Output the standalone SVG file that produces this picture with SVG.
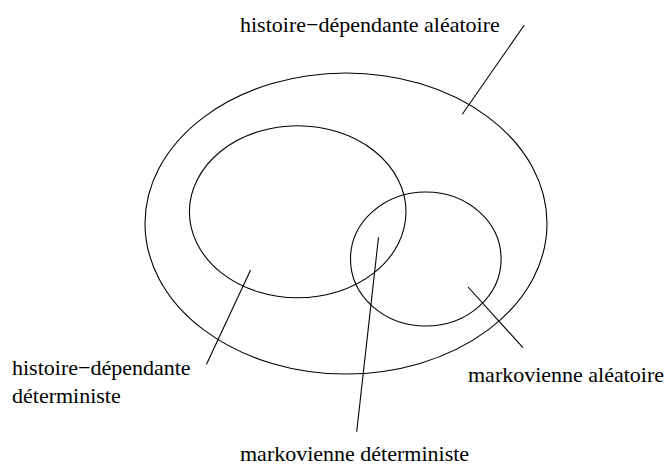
<svg xmlns="http://www.w3.org/2000/svg" width="667" height="465" viewBox="0 0 667 465">
<style>
.set{fill:none;stroke:#000;stroke-width:1.1}
.ln{stroke:#000;stroke-width:1.1;fill:none}
text{font-family:"Liberation Serif","Times New Roman",serif;font-size:22px;fill:#000}
</style>
<rect width="667" height="465" fill="#fff"/>
<g id="histoire-dependante-aleatoire"><ellipse class="set" cx="346" cy="223.5" rx="201" ry="150.5"/></g>
<g id="histoire-dependante-deterministe"><ellipse class="set" cx="297.7" cy="211.8" rx="108.3" ry="86"/></g>
<g id="markovienne-aleatoire"><ellipse class="set" cx="425.8" cy="259" rx="75.3" ry="67"/></g>
<g id="connectors">
<line class="ln" x1="524.3" y1="25" x2="462.3" y2="114.3"/>
<line class="ln" x1="250.6" y1="270" x2="206.4" y2="364.5"/>
<line class="ln" x1="378.5" y1="237.3" x2="356.7" y2="431.7"/>
<line class="ln" x1="468" y1="287" x2="523" y2="347.7"/>
</g>
<g id="labels">
<text x="240" y="31.7">histoire−dépendante aléatoire</text>
<text x="12" y="375">histoire−dépendante</text>
<text x="12" y="403.3">déterministe</text>
<text x="468" y="381.7">markovienne aléatoire</text>
<text x="240" y="461">markovienne déterministe</text>
</g>
</svg>
